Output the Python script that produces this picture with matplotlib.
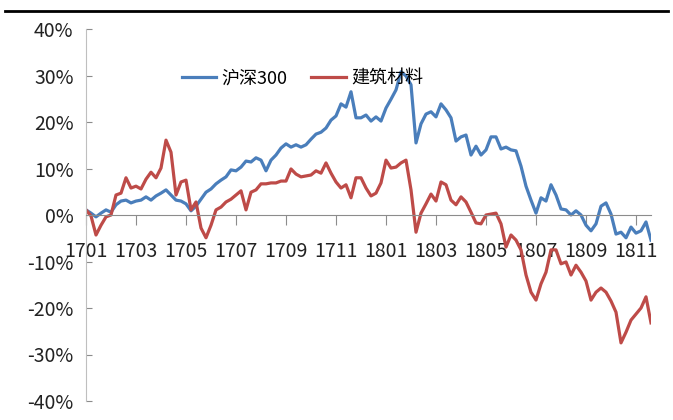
import matplotlib
matplotlib.use('Agg')
import matplotlib.pyplot as plt
from matplotlib.lines import Line2D

# weekly-ish cumulative returns (%)
hs300 = [1.1, 0.4, -0.4, 0.4, 1.1, 0.6, 2.2, 3.0, 3.2, 2.6,
         3.0, 3.2, 3.9, 3.2, 4.1, 4.7, 5.4, 4.3, 3.2, 3.0,
         2.4, 0.9, 1.9, 3.4, 4.9, 5.6, 6.7, 7.5, 8.2, 9.7,
         9.5, 10.3, 11.6, 11.4, 12.3, 11.8, 9.5, 11.8, 12.9, 14.4,
         15.3, 14.6, 15.1, 14.6, 15.1, 16.3, 17.4, 17.8, 18.7, 20.4,
         21.3, 23.9, 23.2, 26.5, 20.9, 20.9, 21.5, 20.2, 21.1, 20.2,
         23.0, 24.9, 26.9, 30.8, 29.9, 28.0, 15.5, 19.6, 21.7, 22.2,
         21.1, 23.9, 22.6, 20.9, 15.9, 16.8, 17.2, 12.9, 14.8, 12.9,
         14.0, 16.8, 16.8, 14.2, 14.6, 14.0, 13.8, 10.5, 6.2, 3.2,
         0.4, 3.7, 3.0, 6.5, 4.3, 1.3, 1.1, 0.0, 0.9, 0.0,
         -2.2, -3.4, -1.9, 1.9, 2.6, 0.2, -4.1, -3.7, -4.9, -2.6,
         -3.9, -3.4, -1.5, -5.4]
jzcl = [1.1, -0.2, -4.3, -2.2, -0.4, 0.0, 4.3, 4.7, 8.0, 5.8,
        6.2, 5.6, 7.7, 9.2, 8.0, 10.1, 16.1, 13.5, 4.3, 7.1,
        7.5, 1.1, 2.8, -2.8, -4.9, -2.2, 1.1, 1.7, 2.8, 3.4,
        4.3, 5.2, 1.1, 4.9, 5.4, 6.7, 6.7, 6.9, 6.9, 7.3,
        7.3, 9.9, 8.8, 8.2, 8.4, 8.6, 9.5, 9.0, 11.2, 9.0,
        7.1, 5.8, 6.5, 3.7, 8.0, 8.0, 5.8, 4.1, 4.7, 6.9,
        11.8, 10.1, 10.3, 11.2, 11.8, 5.4, -3.7, 0.4, 2.4, 4.5,
        3.0, 7.1, 6.5, 3.2, 2.2, 3.9, 2.8, 0.6, -1.7, -1.9,
        0.0, 0.2, 0.4, -1.9, -6.9, -4.3, -5.4, -7.5, -12.9, -16.6,
        -18.3, -14.8, -12.3, -7.5, -7.5, -10.5, -10.1, -12.9, -10.8, -12.3,
        -14.2, -18.3, -16.6, -15.7, -16.6, -18.5, -20.9, -27.5, -25.2, -22.6,
        -21.3, -20.0, -17.6, -23.2]
month_labels = ['1701', '1703', '1705', '1707', '1709', '1711',
                '1801', '1803', '1805', '1807', '1809', '1811']
series_names = ['沪深300', '建筑材料']

fonts = ['Liberation Sans Narrow', 'Noto Sans CJK SC', 'DejaVu Sans']
plt.rcParams['font.family'] = fonts

fig = plt.figure(figsize=(6.73, 4.2), dpi=100)
ax = fig.add_axes([86/673, 1-401/420, (651-86)/673, 372/420])

x = list(range(len(hs300)))
ax.plot(x, hs300, color='#4A7EBB', lw=2.3, label=series_names[0])
ax.plot(x, jzcl, color='#BE4B48', lw=2.3, label=series_names[1])

ax.set_xlim(0, len(hs300) - 1)
ax.set_ylim(-40, 40)
ax.set_yticks(range(-40, 41, 10))
ax.set_yticklabels(['%d%%' % v for v in range(-40, 41, 10)])
ax.set_xticks(range(0, 10 * len(month_labels), 10))
ax.set_xticklabels(month_labels)

for s in ['top', 'right']:
    ax.spines[s].set_visible(False)
ax.spines['bottom'].set_position(('data', 0))
ax.spines['bottom'].set_color('#8C8C8C')
ax.spines['left'].set_color('#BFBFBF')
ax.tick_params(axis='y', direction='in', length=4, color='#8C8C8C',
               labelsize=14, pad=9, labelcolor='#222222')
ax.tick_params(axis='x', direction='out', length=7, color='#8C8C8C',
               labelsize=14, pad=12, labelcolor='#222222')

ax.legend(loc='center left', bbox_to_anchor=(0.17, 0.868), frameon=False,
          ncol=2, fontsize=13, handlelength=1.9, handletextpad=0.3,
          columnspacing=1.3, borderpad=0, borderaxespad=0)

# black rule across the top of the picture
fig.add_artist(Line2D([5/673, 668/673], [1-11/420, 1-11/420],
                      color='black', lw=2))

fig.savefig('out.png', dpi=100)
